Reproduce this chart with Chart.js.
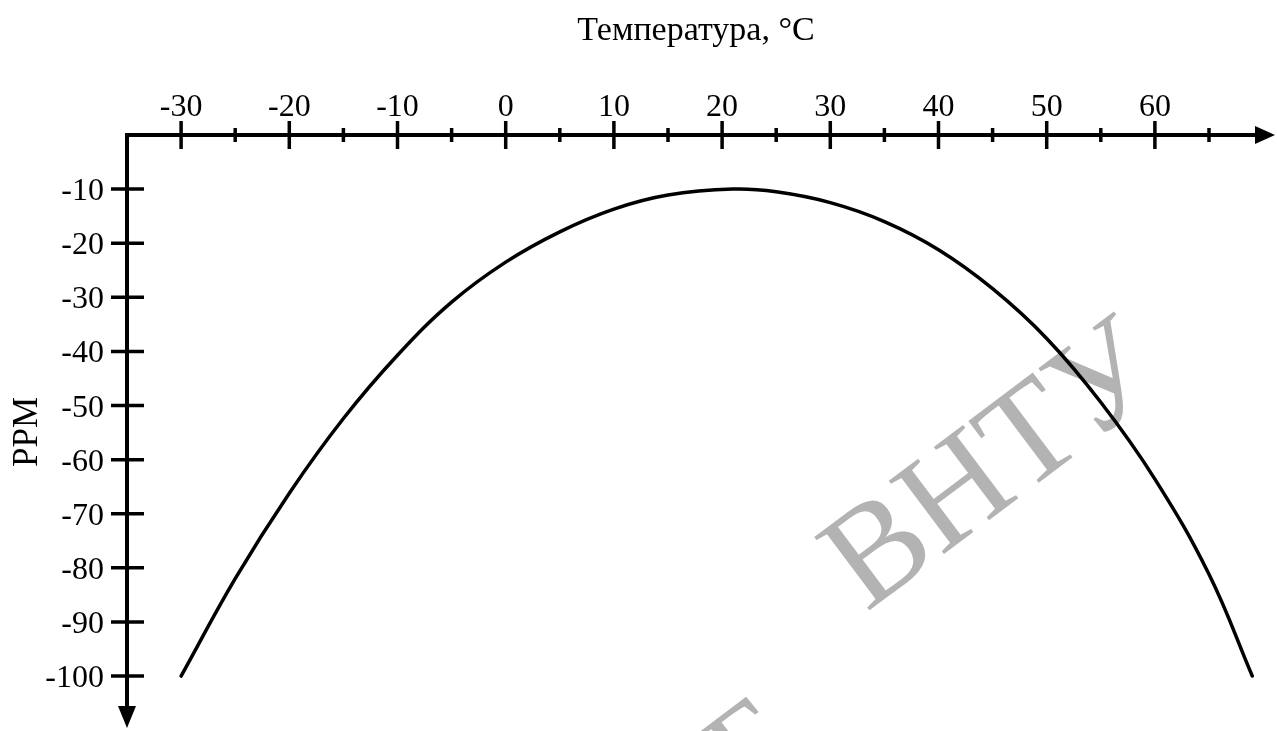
<!DOCTYPE html>
<html>
<head>
<meta charset="utf-8">
<script src="https://cdn.jsdelivr.net/npm/chart.js@4.4.1/dist/chart.umd.min.js"></script>
<style>
  body { margin: 0; background: #fff; }
  canvas { display: block; }
</style>
</head>
<body>
<canvas id="grafik_ppm" width="1277" height="731"></canvas>
<script>
// Температура, °C
var temperatura = [-30, -25, -20, -15, -10, -5, 0, 5, 10, 15, 21, 25, 30, 35, 40, 45, 50, 55, 60, 65, 69];
// Відхилення частоти, PPM
var ppm = [-100, -82, -66.2, -52.4, -40.7, -30.9, -23.5, -17.9, -13.7, -11.1, -10, -10.5, -12.5, -16, -21.2, -28.4, -37.6, -49.4, -63.6, -81.2, -100];

// Мітки на осях
var mitky_x = [-30, -20, -10, 0, 10, 20, 30, 40, 50, 60];
var mitky_x_dribni = [-25, -15, -5, 5, 15, 25, 35, 45, 55, 65];
var mitky_y = [-10, -20, -30, -40, -50, -60, -70, -80, -90, -100];

var shrift = '"Liberation Serif", "Times New Roman", serif';

var tochky = temperatura.map(function (t, i) { return { x: t, y: ppm[i] }; });

// Водяний знак під кривою
const vodyanyi_znak = {
  id: 'vodyanyi_znak',
  beforeDatasetsDraw(chart) {
    const ctx = chart.ctx;
    ctx.save();
    ctx.fillStyle = '#b3b3b3';
    ctx.font = '140px ' + shrift;
    ctx.textAlign = 'center';
    ctx.textBaseline = 'alphabetic';
    ctx.translate(990, 462);
    ctx.rotate(-37 * Math.PI / 180);
    ctx.fillText('ВНТУ', 0, 46);
    ctx.restore();

    ctx.save();
    ctx.fillStyle = '#b3b3b3';
    ctx.font = '130px ' + shrift;
    ctx.textAlign = 'left';
    ctx.translate(748, 802);
    ctx.rotate(-37 * Math.PI / 180);
    ctx.fillText('Б', 0, 0);
    ctx.restore();
  }
};

// Осі зі стрілками, мітки і підписи
const osi = {
  id: 'osi',
  afterDraw(chart) {
    const ctx = chart.ctx;
    const sx = chart.scales.x;
    const sy = chart.scales.y;
    var x0 = sx.getPixelForValue(sx.min);
    var y0 = sy.getPixelForValue(sy.max);
    var x_kin = sx.getPixelForValue(sx.max);
    var y_kin = sy.getPixelForValue(sy.min);

    ctx.save();
    ctx.strokeStyle = '#000';
    ctx.fillStyle = '#000';
    ctx.lineWidth = 4;
    ctx.lineJoin = 'miter';

    ctx.beginPath();
    ctx.moveTo(x_kin - 18, y0);
    ctx.lineTo(x0, y0);
    ctx.lineTo(x0, y_kin - 20);
    ctx.stroke();

    // стрілки
    ctx.beginPath();
    ctx.moveTo(x_kin, y0);
    ctx.lineTo(x_kin - 20, y0 - 9);
    ctx.lineTo(x_kin - 20, y0 + 9);
    ctx.closePath();
    ctx.fill();

    ctx.beginPath();
    ctx.moveTo(x0, y_kin);
    ctx.lineTo(x0 - 9, y_kin - 22);
    ctx.lineTo(x0 + 9, y_kin - 22);
    ctx.closePath();
    ctx.fill();

    ctx.lineWidth = 3.5;
    ctx.beginPath();
    mitky_x.forEach(function (v) {
      var px = sx.getPixelForValue(v);
      ctx.moveTo(px, y0 - 14);
      ctx.lineTo(px, y0 + 14);
    });
    mitky_x_dribni.forEach(function (v) {
      var px = sx.getPixelForValue(v);
      ctx.moveTo(px, y0 - 7);
      ctx.lineTo(px, y0 + 7);
    });
    mitky_y.forEach(function (v) {
      var py = sy.getPixelForValue(v);
      ctx.moveTo(x0 - 16, py);
      ctx.lineTo(x0 + 17, py);
    });
    ctx.stroke();

    ctx.font = '32px ' + shrift;
    ctx.textBaseline = 'alphabetic';
    ctx.textAlign = 'center';
    mitky_x.forEach(function (v) {
      ctx.fillText(String(v), sx.getPixelForValue(v), y0 - 19);
    });
    ctx.textAlign = 'right';
    mitky_y.forEach(function (v) {
      ctx.fillText(String(v), x0 - 23, sy.getPixelForValue(v) + 11);
    });

    ctx.font = '34px ' + shrift;
    ctx.textAlign = 'center';
    ctx.fillText('Температура, °C', 696, 40);

    ctx.font = '35px ' + shrift;
    ctx.translate(37, 432);
    ctx.rotate(-Math.PI / 2);
    ctx.fillText('PPM', 0, 0);
    ctx.restore();
  }
};

new Chart(document.getElementById('grafik_ppm'), {
  type: 'line',
  data: {
    datasets: [{
      label: 'PPM',
      data: tochky,
      borderColor: '#000',
      borderWidth: 3.5,
      borderCapStyle: 'round',
      pointRadius: 0,
      fill: false,
      tension: 0.4
    }]
  },
  options: {
    responsive: false,
    animation: false,
    layout: { padding: { left: 127, top: 135, right: 2, bottom: 3 } },
    plugins: { legend: { display: false }, tooltip: { enabled: false } },
    scales: {
      x: { type: 'linear', min: -35, max: 71.1, display: false },
      y: { type: 'linear', min: -109.6, max: 0, display: false }
    }
  },
  plugins: [vodyanyi_znak, osi]
});
</script>
</body>
</html>
